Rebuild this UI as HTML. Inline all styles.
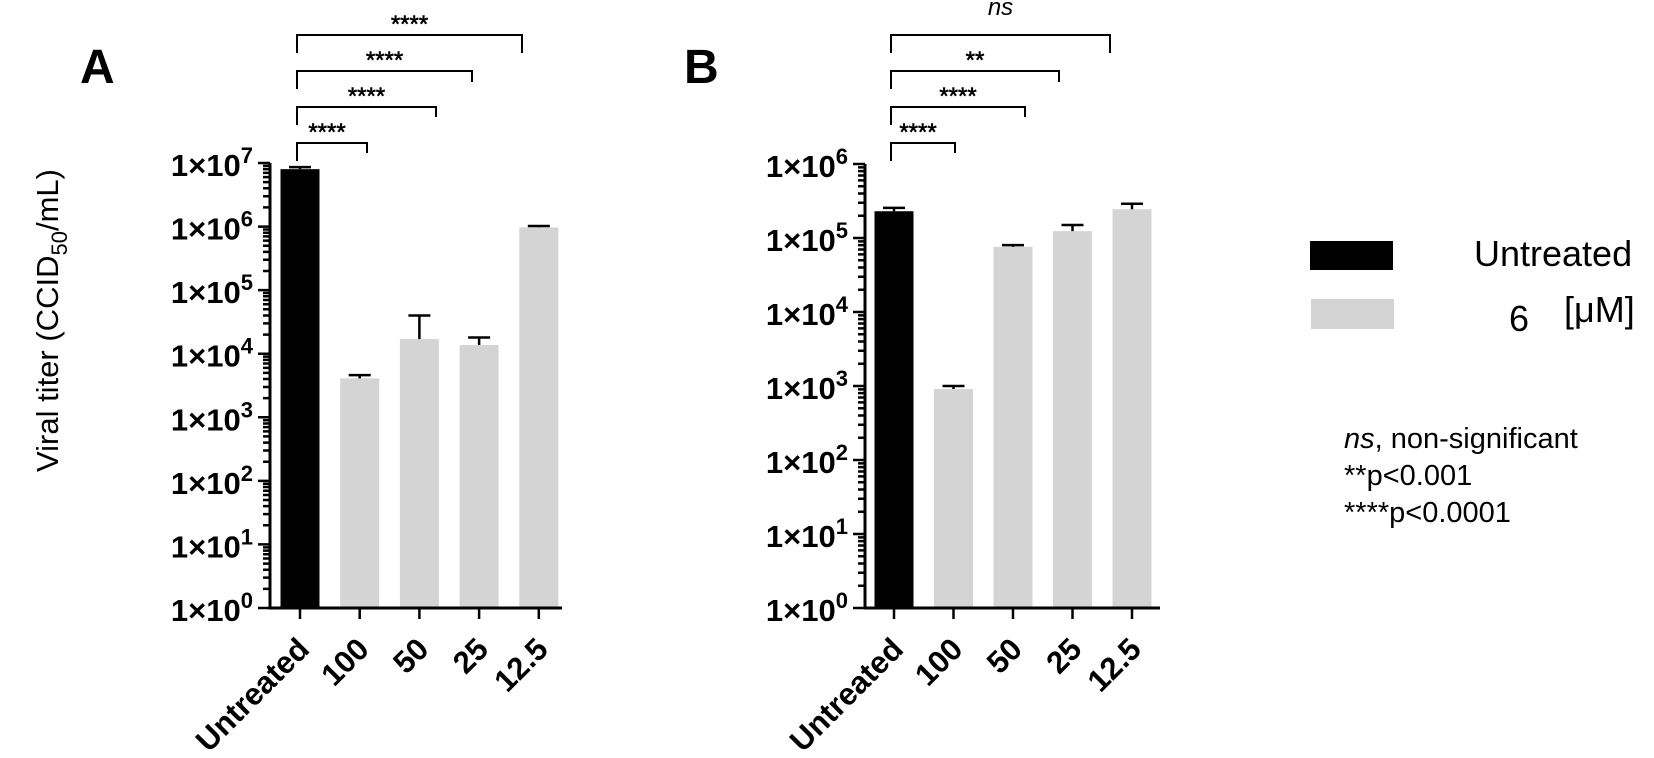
<!DOCTYPE html>
<html><head><meta charset="utf-8"><style>
body{margin:0;background:#fff;}
svg{display:block;font-family:"Liberation Sans",sans-serif;}
</style></head><body>
<svg id="chart" width="1654" height="758" viewBox="0 0 1654 758"></svg>
<script>
const categories=["Untreated","100","50","25","12.5"];
const valuesA=[8.0e6,4.1e3,1.7e4,1.37e4,9.7e5];
const errA=[8.6e6,4.6e3,4.0e4,1.8e4,1.02e6];
const valuesB=[2.3e5,9.1e2,7.6e4,1.24e5,2.45e5];
const errB=[2.55e5,1.0e3,8.0e4,1.5e5,2.9e5];
const sigA=["****","****","****","****"];
const sigB=["****","****","**","ns"];
const NS="http://www.w3.org/2000/svg";
const svg=document.getElementById('chart');
function mk(tag,attrs,parent,text){const e=document.createElementNS(NS,tag);for(const k in attrs)e.setAttribute(k,attrs[k]);if(text!==undefined)e.textContent=text;(parent||svg).appendChild(e);return e;}

function panel(cfg){
  const g=mk('g',{});
  
  
  const y=v=>cfg.y0-(Math.log10(v)-0)*(cfg.y0-cfg.yTop)/cfg.maxExp;
  const x=i=>cfg.x0+cfg.first+i*cfg.step;
  cfg.vals.forEach((v,i)=>{
    const r=mk('rect',{x:x(i)-19.5,y:y(v),width:39,height:cfg.y0-y(v),fill:i===0?'#000':'#d4d4d4'},g);
    
    
    const e=cfg.errs[i];
    const eb=mk('path',{d:`M${x(i)} ${y(v)}V${y(e)}M${x(i)-11} ${y(e)}H${x(i)+11}`,stroke:'#000','stroke-width':2.5,fill:'none'},g);
    
    
  });
  const ax=mk('path',{d:`M${cfg.x0} ${cfg.yTop}V${cfg.y0}H${cfg.xEnd}`,stroke:'#000','stroke-width':3,fill:'none'},g);
  
  
  let d='';
  for(let e=0;e<=cfg.maxExp;e++){
    d+=`M${cfg.x0-12} ${y(Math.pow(10,e))}H${cfg.x0}`;
    if(e<cfg.maxExp)for(let m=2;m<=9;m++)d+=`M${cfg.x0-7} ${y(m*Math.pow(10,e))}H${cfg.x0}`;
    const t=mk('text',{x:cfg.x0-17,y:y(Math.pow(10,e))+13,'text-anchor':'end','font-size':31,'font-weight':'bold'},g);
    
    
    t.textContent='1×10';
    mk('tspan',{dy:-13,'font-size':22},t,String(e));
  }
  categories.forEach((c,i)=>{
    d+=`M${x(i)} ${cfg.y0}V${cfg.y0+11}`;
    const t=mk('text',{x:0,y:0,'text-anchor':'end','font-size':31,'font-weight':'bold',transform:`translate(${x(i)+11},${cfg.y0+43}) rotate(-45)`},g,c);
    
    
  });
  mk('path',{d:d,stroke:'#000','stroke-width':2.5,fill:'none'},g);
  const bl=[{yy:143,h:10},{yy:107,h:10},{yy:71,h:11},{yy:35,h:18}];
  bl.forEach((b,k)=>{
    const xl=x(0)-3,xr=cfg.brR[k];
    const p=mk('path',{d:`M${xl} ${b.yy+18}V${b.yy}H${xr}V${b.yy+b.h}`,stroke:'#000','stroke-width':2,fill:'none'},g);
    
    
    const s=cfg.sig[k];
    const t=mk('text',{x:(xl+xr)/2+(k===0?-5:0),y:b.yy-(s==='ns'?20:3),'text-anchor':'middle','font-size':s==='ns'?24:24,'font-style':s==='ns'?'italic':'normal','stroke':s==='ns'?'none':'#000','stroke-width':0.6},g,s);
    
    
  });
  const L=mk('text',{x:cfg.lx,y:83,'font-size':48,'font-weight':'bold'},g,cfg.letter);
  
  
}
panel({name:'panel-a',x0:270,xEnd:562,first:30,step:59.7,y0:608,yTop:163,maxExp:7,vals:valuesA,errs:errA,sig:sigA,letter:'A',lx:80,brR:[367,436,472,522]});
panel({name:'panel-b',x0:865,xEnd:1160,first:29,step:59.5,y0:608,yTop:164,maxExp:6,vals:valuesB,errs:errB,sig:sigB,letter:'B',lx:684,brR:[955,1025,1059,1110]});

const yl=mk('text',{x:0,y:0,'font-size':31,transform:'translate(58,472) rotate(-90)'});


yl.textContent='Viral titer (CCID';
mk('tspan',{dy:9,'font-size':22},yl,'50');
mk('tspan',{dy:-9},yl,'/mL)');

const lg=mk('g',{});


const r1=mk('rect',{x:1310,y:241,width:83,height:29,fill:'#000'},lg);


const r2=mk('rect',{x:1311,y:299,width:83,height:30,fill:'#d4d4d4'},lg);


const t1=mk('text',{x:1474,y:266,'font-size':36},lg,'Untreated');


const t2=mk('text',{x:1509,y:331,'font-size':36},lg,'6');


const t3=mk('text',{x:1564,y:322,'font-size':36},lg,'[μM]');


const notes=mk('text',{x:1344,y:448,'font-size':29},lg);


mk('tspan',{'font-style':'italic'},notes,'ns');
mk('tspan',{},notes,', non-significant');
mk('tspan',{x:1344,dy:37},notes,'**p<0.001');
mk('tspan',{x:1344,dy:37},notes,'****p<0.0001');
</script>
</body></html>
